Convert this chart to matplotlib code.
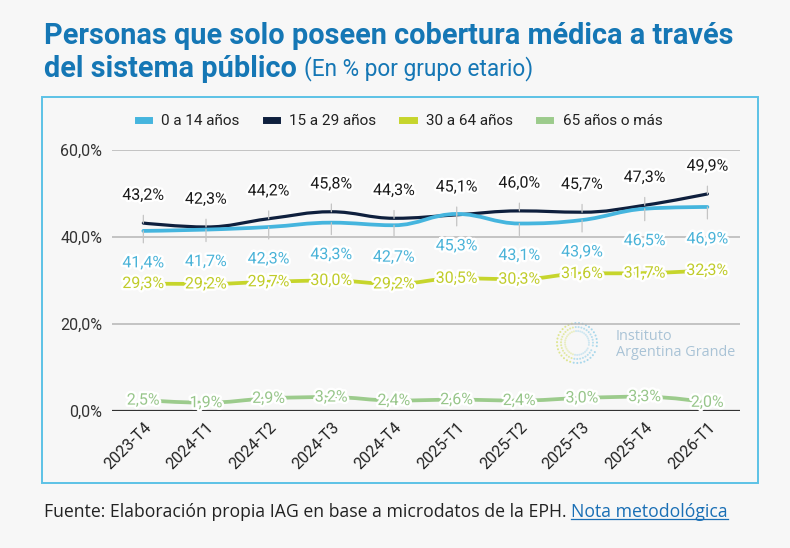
import numpy as np
import matplotlib
matplotlib.use('Agg')
import matplotlib.pyplot as plt
import matplotlib.patheffects as pe
from matplotlib.path import Path
from matplotlib.patches import PathPatch, Rectangle
from matplotlib.lines import Line2D
from matplotlib.colors import to_rgba

periodos = ['2023-T4', '2024-T1', '2024-T2', '2024-T3', '2024-T4',
            '2025-T1', '2025-T2', '2025-T3', '2025-T4', '2026-T1']
edad_0_14 = [41.4, 41.7, 42.3, 43.3, 42.7, 45.3, 43.1, 43.9, 46.5, 46.9]
edad_15_29 = [43.2, 42.3, 44.2, 45.8, 44.3, 45.1, 46.0, 45.7, 47.3, 49.9]
edad_30_64 = [29.3, 29.2, 29.7, 30.0, 29.2, 30.5, 30.3, 31.6, 31.7, 32.3]
edad_65 = [2.5, 1.9, 2.9, 3.2, 2.4, 2.6, 2.4, 3.0, 3.3, 2.0]
series_nombres = ['0 a 14 años', '15 a 29 años', '30 a 64 años', '65 años o más']
y_ticks = [0, 20, 40, 60]

BG = '#f7f7f7'
C_CELESTE = '#45b5de'
C_NAVY = '#0e1f3d'
C_AMARILLO = '#c6d52c'
C_VERDE = '#9ccb8c'
C_TITULO = '#1577b5'
C_GRIS = '#c4c4c4'

plt.rcParams['font.family'] = ['Roboto', 'DejaVu Sans']


def fmt(v):
    return f'{v:.1f}'.replace('.', ',') + '%'


def spline_path(xs, ys, s=1.5):
    # curva suave estilo highcharts (bezier entre puntos)
    n = len(xs)

    def ctrl(i):
        x, y = xs[i], ys[i]
        if i == 0 or i == n - 1:
            return (x, y), (x, y)
        lx, ly = xs[i - 1], ys[i - 1]
        nx, ny = xs[i + 1], ys[i + 1]
        lcx, lcy = (s * x + lx) / (s + 1), (s * y + ly) / (s + 1)
        rcx, rcy = (s * x + nx) / (s + 1), (s * y + ny) / (s + 1)
        corr = ((rcy - lcy) * (rcx - x)) / (rcx - lcx) + y - rcy
        lcy += corr
        rcy += corr
        if lcy > max(ly, y):
            lcy = max(ly, y); rcy = 2 * y - lcy
        elif lcy < min(ly, y):
            lcy = min(ly, y); rcy = 2 * y - lcy
        if rcy > max(ny, y):
            rcy = max(ny, y); lcy = 2 * y - rcy
        elif rcy < min(ny, y):
            rcy = min(ny, y); lcy = 2 * y - rcy
        return (lcx, lcy), (rcx, rcy)

    cs = [ctrl(i) for i in range(n)]
    verts = [(xs[0], ys[0])]
    codes = [Path.MOVETO]
    for i in range(1, n):
        verts += [cs[i - 1][1], cs[i][0], (xs[i], ys[i])]
        codes += [Path.CURVE4] * 3
    return Path(verts, codes)


fig = plt.figure(figsize=(7.9, 5.48), dpi=100, facecolor=BG)
W, H = 790, 548

# marco celeste
fig.patches.append(Rectangle((42 / W, 1 - 483 / H), 716 / W, 386 / H,
                             transform=fig.transFigure, fill=False,
                             ec='#5cc2e6', lw=1.4))

ax = fig.add_axes([112 / W, 1 - 411 / H, 628 / W, 261 / H])
ax.set_facecolor(BG)
ax.set_xlim(-0.5, 9.52)
ax.set_ylim(0, 60)
for sp in ax.spines.values():
    sp.set_visible(False)
ax.set_yticks(y_ticks)
ax.set_yticklabels([fmt(v) for v in y_ticks], fontsize=11.5, color='#333333')
ax.tick_params(axis='both', length=0)
ax.tick_params(axis='y', pad=7)
for v in y_ticks[1:]:
    ax.axhline(v, color='#b5b5b5', lw=1.1, zorder=1)
ax.axhline(0, color='#333333', lw=1.6, zorder=1)

x = np.arange(len(periodos))
ax.set_xticks(x)
ax.set_xticklabels(periodos, rotation=45, ha='right', rotation_mode='anchor',
                   fontsize=11.5, color='#222222')
ax.tick_params(axis='x', pad=6)

halo = [pe.withStroke(linewidth=3.5, foreground='white')]

datos = [(edad_15_29, C_NAVY, 2.3), (edad_0_14, C_CELESTE, 2.7),
         (edad_30_64, C_AMARILLO, 2.7), (edad_65, C_VERDE, 2.7)]
for vals, col, lw in datos:
    ax.add_patch(PathPatch(spline_path(list(x), vals), fill=False, ec=col,
                           lw=lw, capstyle='round', zorder=3, clip_on=False))

# etiquetas 15 a 29 (arriba) y 0 a 14 (abajo) con guia
for xi, v in zip(x, edad_15_29):
    ax.annotate(fmt(v), (xi, v), xytext=(0, 20), textcoords='offset points',
                ha='center', va='center', fontsize=11.5, color='#1a1a1a',
                path_effects=halo, zorder=5,
                arrowprops=dict(arrowstyle='-', color=C_GRIS, lw=0.9,
                                shrinkA=7, shrinkB=0))
for xi, v in zip(x, edad_0_14):
    ax.annotate(fmt(v), (xi, v), xytext=(0, -23), textcoords='offset points',
                ha='center', va='center', fontsize=11.5, color='#4ab3d8',
                path_effects=halo, zorder=5,
                arrowprops=dict(arrowstyle='-', color=C_GRIS, lw=0.9,
                                shrinkA=7, shrinkB=0))
for xi, v in zip(x, edad_30_64):
    ax.text(xi, v, fmt(v), ha='center', va='center', fontsize=11.5,
            color='#c0cc2a', path_effects=halo, zorder=5)
for xi, v in zip(x, edad_65):
    ax.text(xi, v, fmt(v), ha='center', va='center', fontsize=11.5,
            color='#98c68b', path_effects=halo, zorder=5)

# leyenda
handles = [Line2D([], [], color=c, lw=5) for c in
           [C_CELESTE, C_NAVY, C_AMARILLO, C_VERDE]]
fig.legend(handles, series_nombres, loc='center', ncol=4,
           bbox_to_anchor=(400 / W, 1 - 121 / H), frameon=False,
           fontsize=11, handlelength=0.75, handletextpad=0.8,
           columnspacing=1.7, labelcolor='#222222')

# logo de fondo
ang = np.linspace(0.15 * np.pi, 2.05 * np.pi, 34)
for r, a in [(20, 0.5), (16, 0.4), (12, 0.25)]:
    cols = [to_rgba(C_AMARILLO if np.cos(t) < -0.2 else '#5ab8e0', a)
            for t in ang]
    fig.add_artist(plt.scatter((577 + r * np.cos(ang)) / W,
                               1 - (343 + r * np.sin(ang)) / H,
                               s=2.2, c=cols, transform=fig.transFigure,
                               linewidths=0, zorder=0))
fig.text(616 / W, 1 - 337 / H, 'Instituto', fontsize=10.4, color='#a9c3d6',
         va='center', family=['Open Sans', 'DejaVu Sans'])
fig.text(616 / W, 1 - 353 / H, 'Argentina Grande', fontsize=10.4,
         color='#a9c3d6', va='center', family=['Open Sans', 'DejaVu Sans'])

# titulo
t1 = fig.text(44 / W, 1 - 36 / H,
              'Personas que solo poseen cobertura médica a través',
              fontsize=20.8, fontweight='bold', color=C_TITULO, va='center')
t2 = fig.text(44 / W, 1 - 69 / H, 'del sistema público', fontsize=20.8,
              fontweight='bold', color=C_TITULO, va='center')

# fuente
f1 = fig.text(44 / W, 1 - 512 / H,
              'Fuente: Elaboración propia IAG en base a microdatos de la EPH. ',
              fontsize=12.7, color='#222222', va='center',
              family=['Open Sans', 'DejaVu Sans'])

fig.canvas.draw()
r = fig.canvas.get_renderer()
bb = t2.get_window_extent(r)
fig.text(bb.x1 / W + 7 / W, 1 - 69 / H, '(En % por grupo etario)', fontsize=16.3,
         color=C_TITULO, va='center')
bb = f1.get_window_extent(r)
f2 = fig.text(bb.x1 / W, 1 - 512 / H, 'Nota metodológica', fontsize=12.7,
              color='#1a6fb5', va='center', family=['Open Sans', 'DejaVu Sans'])
fig.canvas.draw()
bb2 = f2.get_window_extent(r)
fig.add_artist(Line2D([bb2.x0 / W, bb2.x1 / W], [bb2.y0 / H + 2 / H] * 2,
                      transform=fig.transFigure, color='#1a6fb5', lw=0.9))

fig.savefig('out.png', dpi=100, facecolor=BG)
